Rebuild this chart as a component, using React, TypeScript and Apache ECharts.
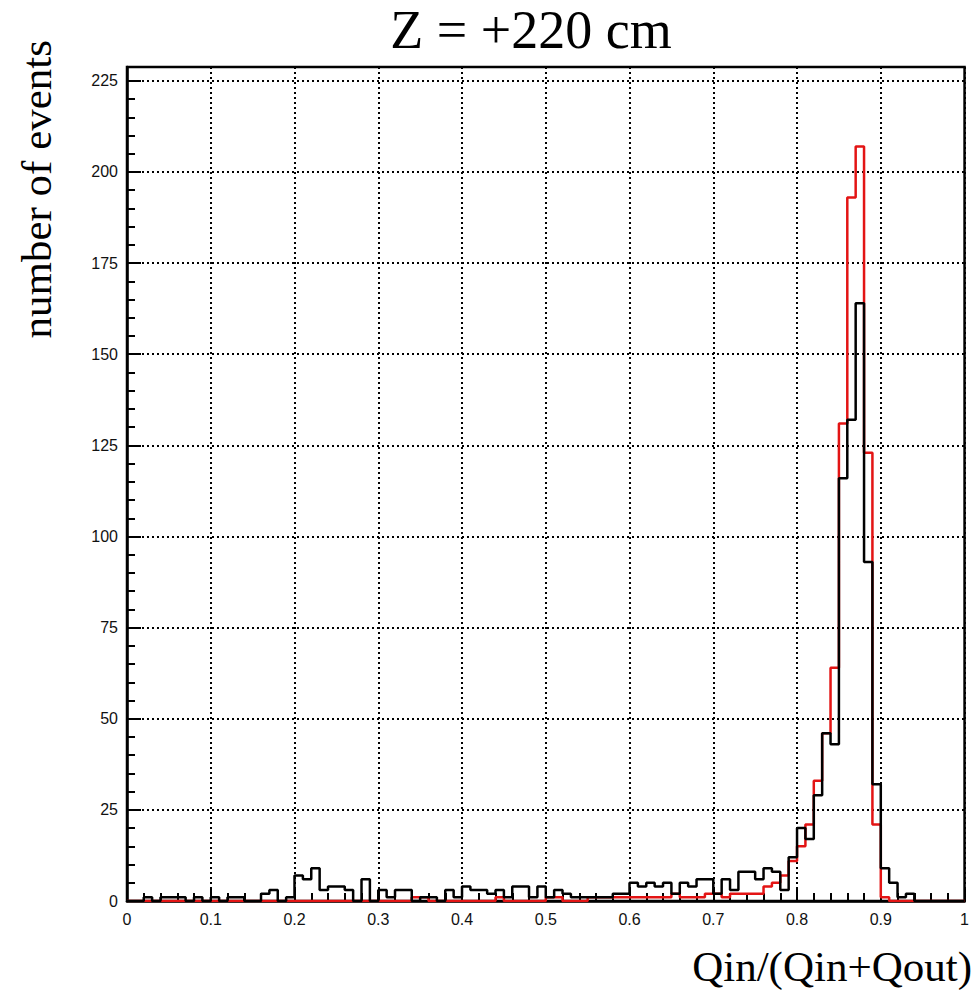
import React, { useEffect, useRef } from "react";
import * as echarts from "echarts";

// Histogram bins: 100 bins of width 0.01 on [0, 1]
const BIN_WIDTH = 0.01;
const X_MIN = 0;
const X_MAX = 1;
const Y_MAX = 228.8;

// black histogram (events per bin)
const blackCounts = [
  0, 0, 1, 0, 1, 1, 1, 0, 1, 0,
  1, 0, 1, 1, 0, 0, 2, 3, 0, 1,
  7, 6, 9, 3, 4, 4, 3, 0, 6, 0,
  3, 1, 3, 3, 0, 1, 1, 0, 3, 1,
  4, 3, 3, 2, 3, 1, 4, 4, 1, 4,
  1, 3, 2, 1, 1, 1, 1, 1, 2, 2,
  5, 4, 5, 4, 5, 2, 5, 4, 6, 6,
  2, 6, 3, 8, 8, 6, 9, 8, 3, 12,
  20, 17, 29, 46, 43, 116, 132, 164, 93, 32,
  9, 5, 1, 2, 0, 0, 0, 0, 0, 0,
];

// red histogram (events per bin)
const redCounts = [
  0, 0, 0, 0, 0, 0, 0, 0, 0, 0,
  0, 0, 0, 0, 0, 0, 0, 0, 0, 0,
  0, 0, 0, 0, 0, 0, 0, 0, 0, 0,
  0, 0, 0, 0, 1, 1, 0, 0, 0, 0,
  0, 0, 0, 0, 1, 0, 0, 0, 0, 0,
  1, 1, 0, 0, 0, 1, 1, 1, 1, 1,
  1, 1, 1, 1, 1, 2, 1, 1, 1, 2,
  2, 1, 2, 2, 2, 2, 4, 5, 7, 11,
  15, 21, 33, 46, 64, 131, 193, 207, 123, 21,
  1, 0, 0, 0, 0, 0, 0, 0, 0, 0,
];

const titleText = "Z = +220 cm";
const xTitle = "Qin/(Qin+Qout)";
const yTitle = "number of events";

function toSteps(counts: number[]) {
  const pts: [number, number][] = [[X_MIN, 0]];
  counts.forEach((v, i) => pts.push([+(X_MIN + i * BIN_WIDTH).toFixed(4), v]));
  pts.push([X_MAX, 0]);
  return pts;
}

export default function App() {
  const ref = useRef<HTMLDivElement>(null);
  useEffect(() => {
    if (!ref.current) return;
    const chart = echarts.init(ref.current, null, { renderer: "svg" });
    const gridLine = { color: "#000", width: 2, type: [2, 3] as any };
    const labelStyle = {
      color: "#111",
      fontFamily: "Liberation Sans",
      fontSize: 16,
      fontWeight: 500 as any,
    };
    chart.setOption({
      animation: false,
      backgroundColor: "#fff",
      grid: {
        left: 127,
        right: 4,
        top: 67,
        bottom: 93,
        show: true,
        borderColor: "#000",
        borderWidth: 2.5,
        backgroundColor: "transparent",
      },
      xAxis: {
        type: "value",
        min: X_MIN,
        max: X_MAX,
        interval: 0.1,
        axisLine: { show: true, lineStyle: { color: "#000", width: 2.5 } },
        axisTick: { show: true, inside: true, length: 14, lineStyle: { color: "#000", width: 2 } },
        minorTick: { show: true, splitNumber: 5, length: 8, lineStyle: { color: "#000", width: 2 } },
        splitLine: { show: true, lineStyle: gridLine },
        axisLabel: {
          ...labelStyle,
          margin: 10,
          formatter: (v: number) => String(Math.round(v * 10) / 10),
        },
      },
      yAxis: {
        type: "value",
        min: 0,
        max: Y_MAX,
        interval: 25,
        axisLine: { show: true, lineStyle: { color: "#000", width: 2.5 } },
        axisTick: { show: true, inside: true, length: 14, lineStyle: { color: "#000", width: 2 } },
        minorTick: { show: true, splitNumber: 5, length: 8, lineStyle: { color: "#000", width: 2 } },
        splitLine: { show: true, lineStyle: gridLine },
        axisLabel: {
          ...labelStyle,
          margin: 9,
          showMaxLabel: false,
          formatter: (v: number) => (Math.abs(v % 25) < 1e-6 ? String(v) : ""),
        },
      },
      series: [
        {
          type: "line",
          step: "end",
          data: toSteps(redCounts),
          showSymbol: false,
          lineStyle: { color: "#e31414", width: 2.5 },
          z: 3,
        },
        {
          type: "line",
          step: "end",
          data: toSteps(blackCounts),
          showSymbol: false,
          lineStyle: { color: "#000", width: 2.5 },
          z: 4,
        },
      ],
      graphic: [
        {
          type: "text",
          x: 531,
          y: 30,
          style: {
            text: titleText,
            font: "54px 'Liberation Serif'",
            fill: "#000",
            textAlign: "center",
            textVerticalAlign: "middle",
          },
        },
        {
          type: "text",
          x: 36,
          y: 40,
          rotation: Math.PI / 2,
          style: {
            text: yTitle,
            font: "43px 'Liberation Serif'",
            fill: "#000",
            textAlign: "right",
            textVerticalAlign: "middle",
          },
        },
        {
          type: "text",
          x: 972,
          y: 966,
          style: {
            text: xTitle,
            font: "43px 'Liberation Serif'",
            fill: "#000",
            textAlign: "right",
            textVerticalAlign: "middle",
          },
        },
      ],
    });
    return () => chart.dispose();
  }, []);
  return (
    <div
      ref={ref}
      style={{ position: "fixed", left: 0, top: 0, width: 972, height: 994, background: "#fff" }}
    />
  );
}
